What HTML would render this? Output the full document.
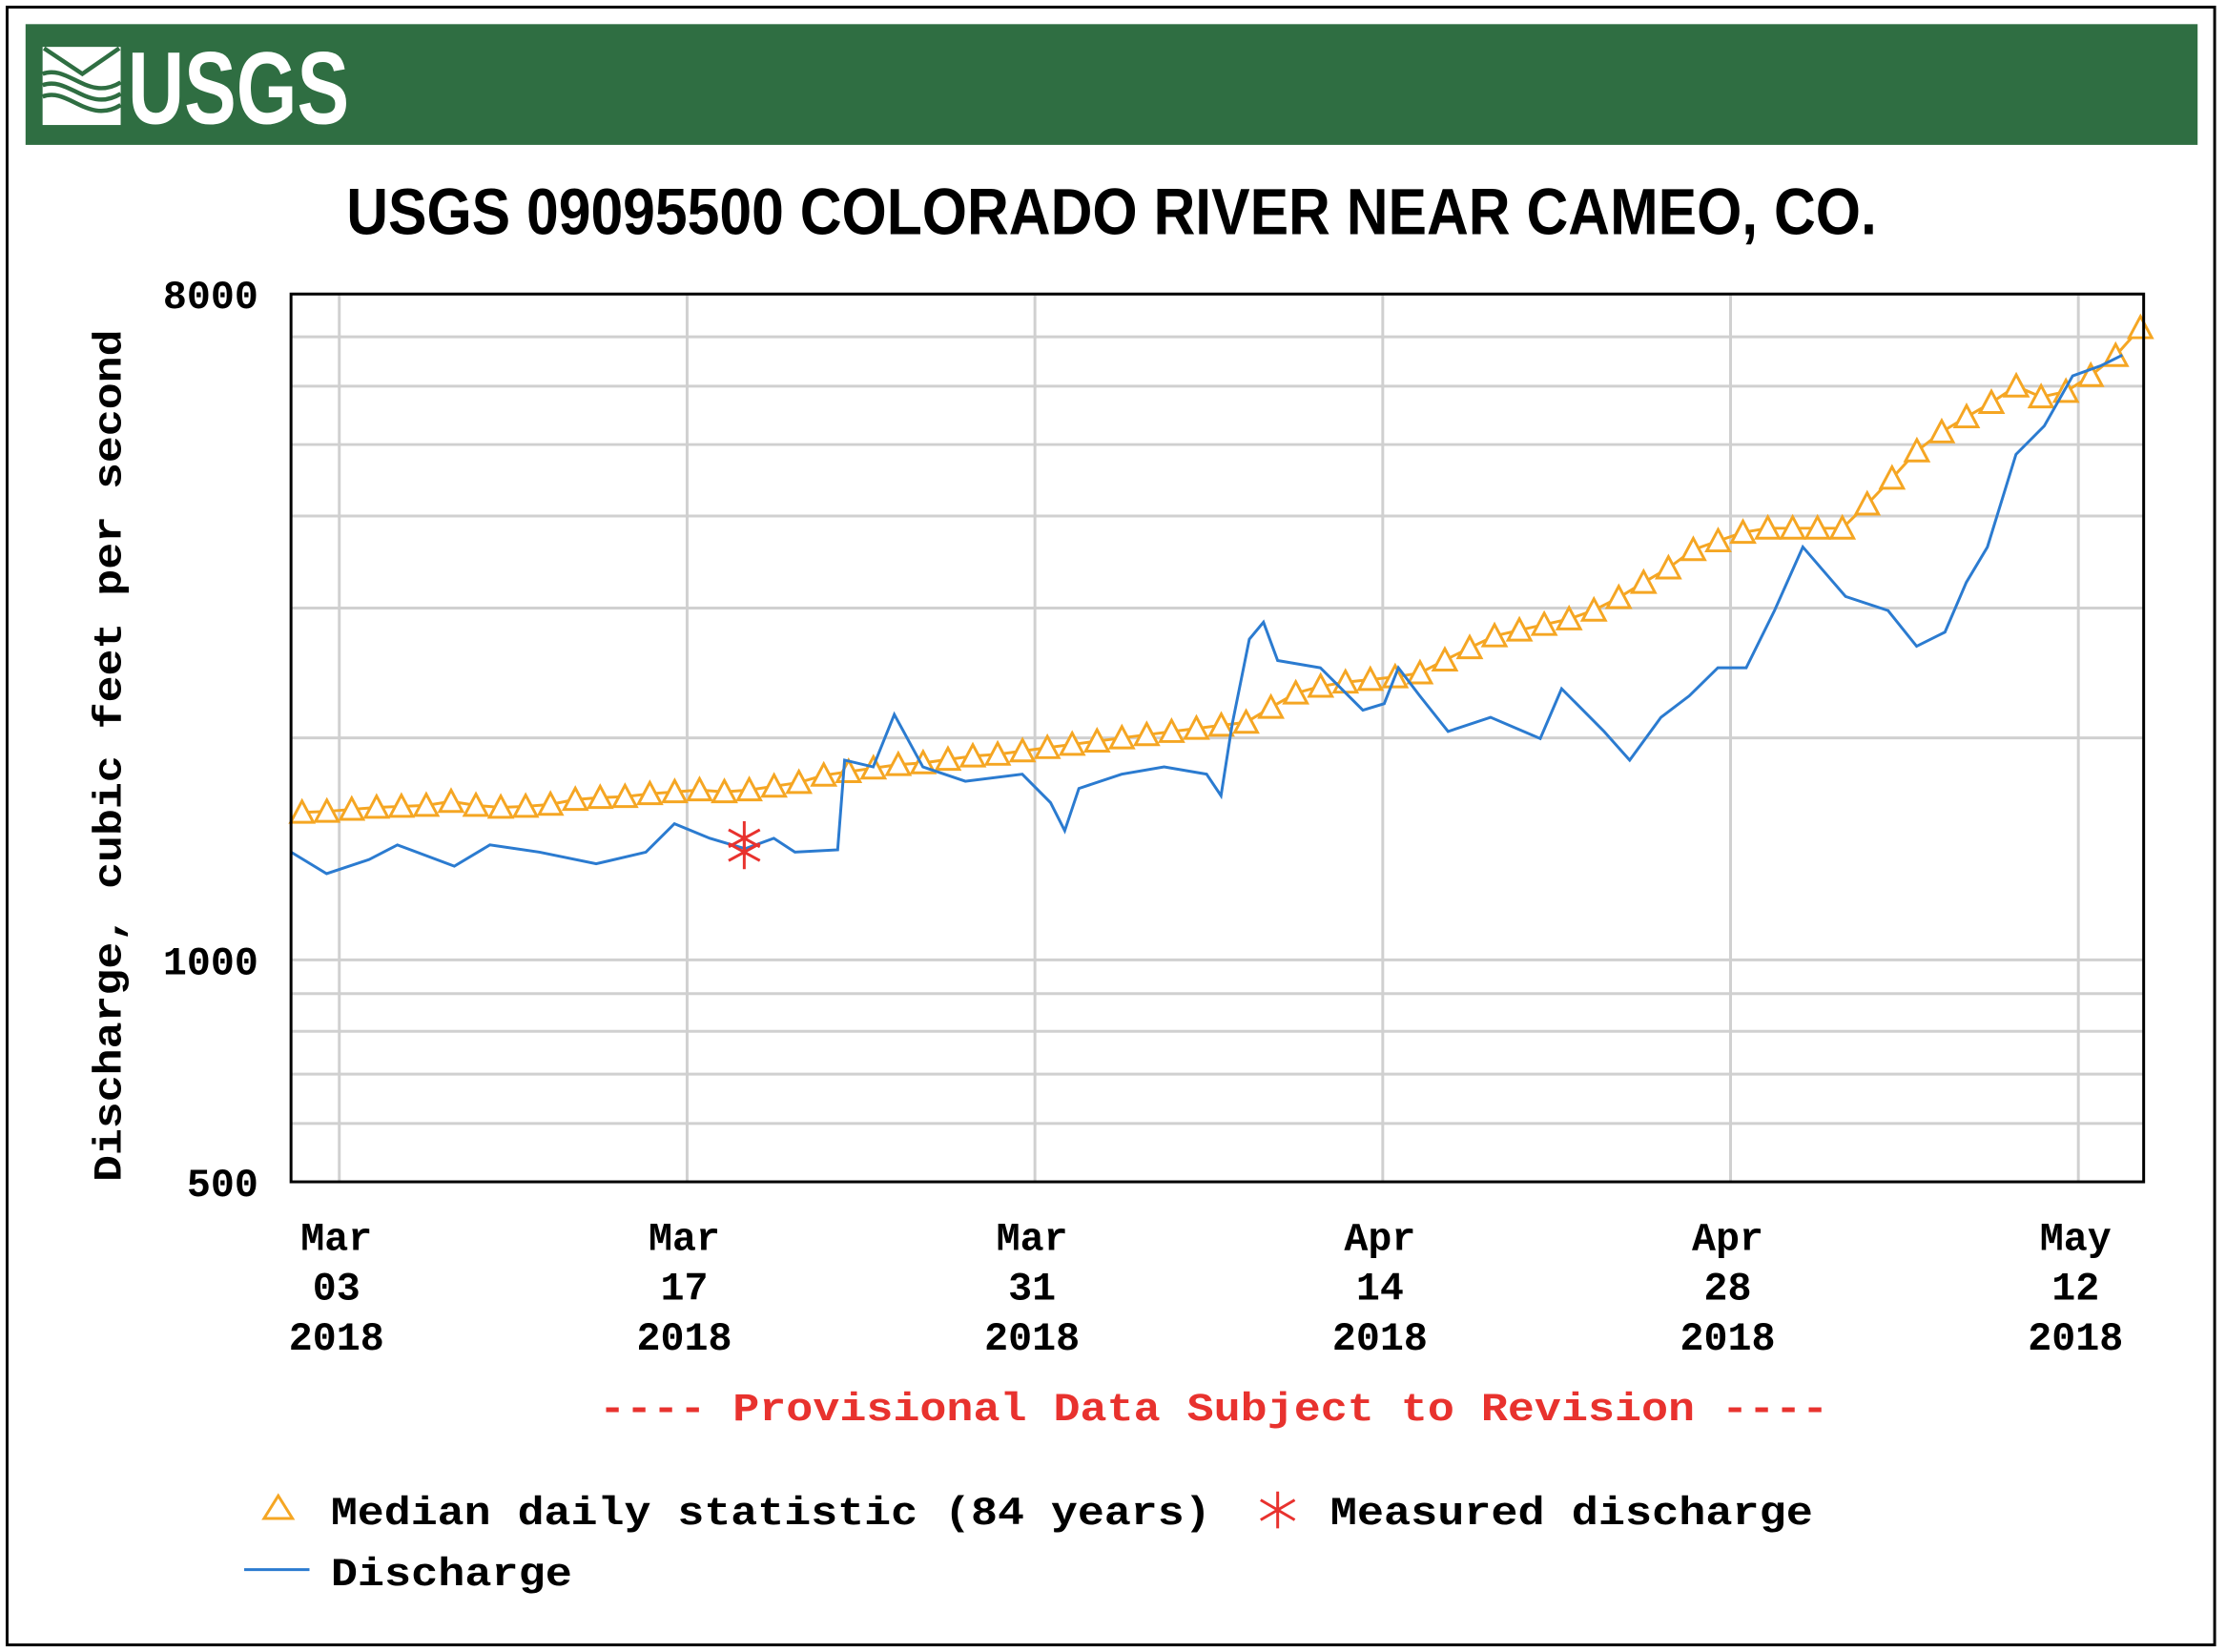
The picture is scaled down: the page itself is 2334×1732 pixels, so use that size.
<!DOCTYPE html>
<html><head><meta charset="utf-8"><style>
html,body{margin:0;padding:0;background:#fff;}
svg{display:block;}
.mono{font-family:"Liberation Mono","DejaVu Sans Mono",monospace;font-weight:bold;}
</style></head><body>
<svg id="chart" width="2334" height="1732" viewBox="0 0 1568 1163" preserveAspectRatio="none" xmlns="http://www.w3.org/2000/svg">
<rect x="5" y="5" width="1555" height="1153" fill="#fff" stroke="#000" stroke-width="2"/>
<rect x="18" y="17" width="1530" height="85" fill="#2f6e42"/>
<g>
<rect x="30" y="33" width="55" height="55" fill="#fff"/>
<path d="M30,33 L85,33 L58,60 Z M30,88 L85,88 L58,60 Z" fill="#2f6e42" opacity="0.0"/>
<path d="M30,52 C48,45 62,72 85,58 M30,60 C48,53 62,80 85,66 M30,68 C48,61 62,88 85,74" stroke="#2f6e42" stroke-width="3" fill="none"/>
<path d="M31,34 L58,52 L84,34" stroke="#2f6e42" stroke-width="3" fill="none"/>
<text x="90" y="87" font-family="Liberation Sans Narrow, Liberation Sans, sans-serif" font-weight="bold" font-size="72" fill="#fff" textLength="156" lengthAdjust="spacingAndGlyphs">USGS</text>
</g>
<text x="783" y="165" text-anchor="middle" font-family="Liberation Sans Narrow, Liberation Sans, sans-serif" font-weight="bold" font-size="46" fill="#000" textLength="1078" lengthAdjust="spacingAndGlyphs">USGS 09095500 COLORADO RIVER NEAR CAMEO, CO.</text>
<g id="grid"></g>
<g id="series"></g>
<rect x="205" y="207" width="1305" height="625" fill="none" stroke="#000" stroke-width="2"/>
<g id="labels" class="mono"></g>
<text class="mono" transform="translate(85,532) rotate(-90)" text-anchor="middle" font-size="28" textLength="600" lengthAdjust="spacingAndGlyphs">Discharge, cubic feet per second</text>
<text class="mono" x="855" y="1000" text-anchor="middle" font-size="28" fill="#e8322e" textLength="866" lengthAdjust="spacingAndGlyphs">---- Provisional Data Subject to Revision ----</text>
<g>
<g>
<path d="M186,1069 L196,1053 L206,1069 Z" fill="none" stroke="#f5a623" stroke-width="2"/>
<text class="mono" x="233" y="1073" font-size="28" textLength="620" lengthAdjust="spacingAndGlyphs">Median daily statistic (84 years)</text>
</g>
<g stroke="#e8322e" stroke-width="2">
<path d="M900,1050 L900,1076 M888,1056 L912,1070 M888,1070 L912,1056"/>
<text class="mono" x="937" y="1073" font-size="28" stroke="none" textLength="340" lengthAdjust="spacingAndGlyphs">Measured discharge</text>
</g>
<g>
<line x1="172" y1="1105" x2="218" y2="1105" stroke="#2b7bd0" stroke-width="2"/>
<text class="mono" x="233" y="1116" font-size="28" textLength="170" lengthAdjust="spacingAndGlyphs">Discharge</text>
</g>
</g>
</svg>
<script>
const yTickValues=[500,600,700,800,900,1000,2000,3000,4000,5000,6000,7000,8000];
const yTickLabels=["500","1000","8000"];
const xTickDays=[2,16,30,44,58,72];
const xTickLabels=[["Mar","03","2018"],["Mar","17","2018"],["Mar","31","2018"],["Apr","14","2018"],["Apr","28","2018"],["May","12","2018"]];
const dischargeDays=[0.06,1.49,3.2,4.34,6.63,8.06,10.06,12.34,14.34,15.49,16.91,18.34,19.49,20.34,22.06,22.34,23.49,24.34,25.49,27.2,29.49,30.63,31.2,31.77,33.49,35.2,36.91,37.49,37.94,38.63,39.2,39.77,41.49,43.2,44.06,44.63,45.49,46.63,48.34,50.34,51.2,52.91,53.94,55.2,56.34,57.49,58.63,59.77,60.91,62.63,64.34,65.49,66.63,67.49,68.34,69.49,70.63,71.77,72.91,73.77];
const dischargeValues=[1400,1309,1368,1432,1340,1432,1400,1350,1400,1530,1462,1415,1462,1400,1410,1866,1827,2152,1827,1747,1786,1634,1497,1708,1786,1827,1786,1670,2087,2722,2871,2547,2490,2181,2226,2490,2281,2041,2133,1996,2332,2041,1866,2133,2281,2490,2490,2977,3631,3111,2977,2663,2783,3251,3631,4849,5300,6196,6396,6610];
const medianValues=[1585,1590,1600,1610,1615,1620,1640,1620,1610,1615,1625,1650,1660,1665,1680,1690,1700,1690,1700,1720,1740,1780,1800,1820,1840,1850,1870,1890,1900,1920,1940,1960,1980,2000,2020,2040,2060,2080,2100,2200,2300,2350,2380,2400,2420,2450,2550,2650,2750,2800,2850,2900,2980,3100,3250,3400,3600,3700,3800,3850,3850,3850,3850,4150,4500,4900,5200,5450,5700,6000,5800,5900,6200,6600,7200];
const measuredDays=[18.3,18.3];
const measuredValues=[1462,1400];

const X0=205,X1=1510,Y0=832,Y1=207;
const fx=d=>204+17.5*d;
const fy=v=>Y0-(Y0-Y1)*Math.log(v/500)/Math.log(16);
const NS="http://www.w3.org/2000/svg";
function mk(tag,attrs,parent){const e=document.createElementNS(NS,tag);for(const k in attrs)e.setAttribute(k,attrs[k]);parent.appendChild(e);return e;}
const grid=document.getElementById('grid'),series=document.getElementById('series'),labels=document.getElementById('labels');
yTickValues.forEach(v=>{const l=mk('line',{x1:X0,x2:X1,y1:fy(v),y2:fy(v),stroke:'#d0d0d0','stroke-width':2},grid);

});
xTickDays.forEach((d,i)=>{const l=mk('line',{x1:fx(d),x2:fx(d),y1:Y1,y2:Y0,stroke:'#d0d0d0','stroke-width':2},grid);


xTickLabels[i].forEach((s,j)=>{const t=mk('text',{x:fx(d)-2,y:880+35*j,'text-anchor':'middle','font-size':28},labels);t.textContent=s;

});});
yTickLabels.forEach(s=>{const t=mk('text',{x:182,y:fy(+s)+10,'text-anchor':'end','font-size':28},labels);t.textContent=s;

});
// median line + triangles
let mp=medianValues.map((v,i)=>fx(i+0.5)+','+fy(v)).join(' ');
const ml=mk('polyline',{points:mp,fill:'none',stroke:'#f5a623','stroke-width':2},series);


medianValues.forEach((v,i)=>{const x=fx(i+0.5),y=fy(v);
const p=mk('path',{d:`M${x-8},${y+7} L${x},${y-8} L${x+8},${y+7} Z`,fill:'#fff',stroke:'#f5a623','stroke-width':2},series);

});
// discharge
let dp=dischargeDays.map((d,i)=>fx(d)+','+fy(dischargeValues[i])).join(' ');
const dl=mk('polyline',{points:dp,fill:'none',stroke:'#2b7bd0','stroke-width':2},series);


measuredDays.forEach((d,i)=>{const x=fx(d),y=fy(measuredValues[i]);
const p=mk('path',{d:`M${x},${y-12} L${x},${y+12} M${x-11},${y-6} L${x+11},${y+6} M${x-11},${y+6} L${x+11},${y-6}`,stroke:'#e8322e','stroke-width':2},series);

});
</script>
</body></html>
